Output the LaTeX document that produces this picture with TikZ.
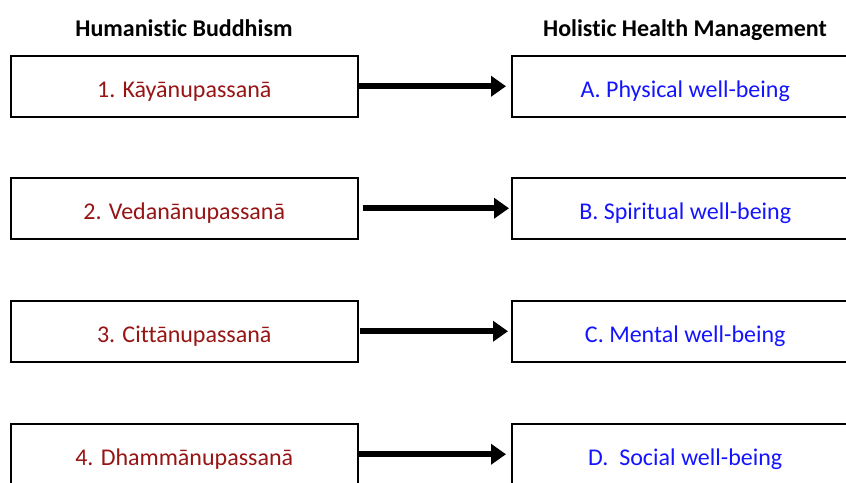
\documentclass[tikz,border=0pt]{standalone}
\usepackage{fontspec}
\setmainfont{Carlito}[RawFeature=-liga]
\usetikzlibrary{arrows.meta}
\definecolor{darkred}{RGB}{150,20,20}
\definecolor{textblue}{RGB}{20,20,255}
\begin{document}
\begin{tikzpicture}[x=1pt,y=-1pt,
  box/.style={draw=black,line width=1.5pt,minimum width=347pt,minimum height=61pt,inner sep=0pt,anchor=north west,text height=23pt,text depth=0pt},
  lefttext/.style={text=darkred,font=\fontsize{24}{28}\selectfont},
  righttext/.style={text=textblue,font=\fontsize{24}{28}\selectfont},
  header/.style={font=\bfseries\fontsize{24}{28}\selectfont,anchor=base},
  conn/.style={line width=6pt,-{Triangle[length=15pt,width=20pt]},shorten >=5pt}]
\useasboundingbox (0,0) rectangle (846,482);
\clip (0,0) rectangle (846,482);
\node[header] (h1) at (184,36) {Humanistic Buddhism};
\node[header] (h2) at (685,36) {Holistic Health Management};
\node[box,lefttext] (l1) at (10,55) {1. Kāyānupassanā};
\node[box,lefttext] (l2) at (10,177) {2. Vedanānupassanā};
\node[box,lefttext] (l3) at (10,300) {3. Cittānupassanā};
\node[box,lefttext] (l4) at (10,423) {4. Dhammānupassanā};
\node[box,righttext] (r1) at (511,55) {A. Physical well-being};
\node[box,righttext] (r2) at (511,177) {B. Spiritual well-being};
\node[box,righttext] (r3) at (511,300) {C. Mental well-being};
\node[box,righttext] (r4) at (511,423) {D.\ \ Social well-being};
\draw[conn] (l1.east) -- (r1.west);
\draw[conn,shorten <=4pt,shorten >=2pt] (l2.east) -- (r2.west);
\draw[conn,shorten <=1pt,shorten >=3pt] (l3.east) -- (r3.west);
\draw[conn] (l4.east) -- (r4.west);
\end{tikzpicture}
\end{document}
